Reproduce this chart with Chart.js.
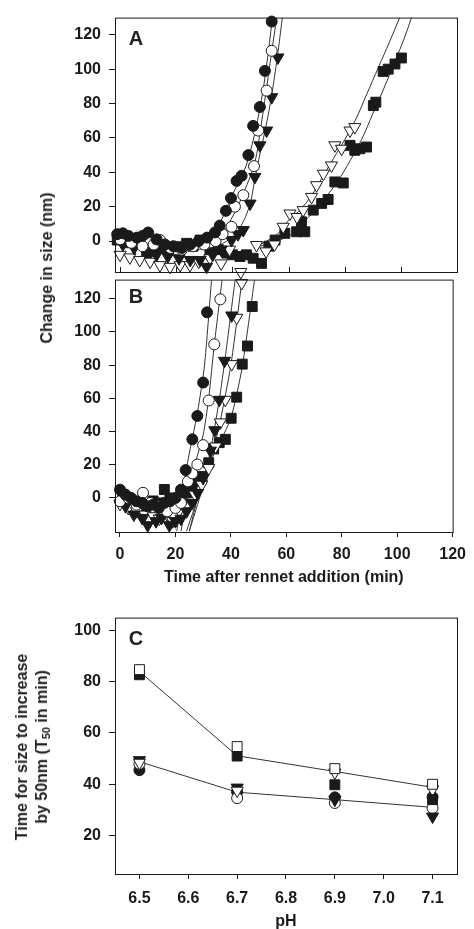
<!DOCTYPE html>
<html>
<head>
<meta charset="utf-8">
<script src="https://cdn.jsdelivr.net/npm/chart.js@4.4.0/dist/chart.umd.min.js"></script>
<style>
  body { margin: 0; background: #fff; width: 474px; height: 929px; position: relative; overflow: hidden;
         font-family: "Liberation Sans", Arial, sans-serif; color: #222; }
  canvas { position: absolute; left: 0; }
  .ytitle { position: absolute; font-weight: bold; font-size: 16px; white-space: nowrap; text-align: center;
            line-height: 20px; transform: translate(-50%, -50%) rotate(-90deg); }
  .ytitle sub { font-size: 11px; line-height: 0; vertical-align: -3px; }
  .panel { position: absolute; font-weight: bold; font-size: 20px; transform: translate(-50%, -50%); }
</style>
</head>
<body>
<canvas id="chartA" width="474" height="290" style="top:0px"></canvas>
<canvas id="chartB" width="474" height="338" style="top:262px"></canvas>
<canvas id="chartC" width="474" height="329" style="top:600px"></canvas>
<div class="ytitle" style="left:47px; top:268px">Change in size (nm)</div>
<div class="ytitle" style="left:32px; top:747px">Time for size to increase<br>by 50nm (T<sub>50</sub> in min)</div>
<div class="panel" style="left:136px; top:38px">A</div>
<div class="panel" style="left:136px; top:296px">B</div>
<div class="panel" style="left:136px; top:638px">C</div>
<script>
// tick values
const timeTicks = [0, 20, 40, 60, 80, 100, 120];
const sizeTicks = [0, 20, 40, 60, 80, 100, 120];
const phTicks = [6.5, 6.6, 6.7, 6.8, 6.9, 7.0, 7.1];
const t50Ticks = [20, 40, 60, 80, 100];

// panel A : [time, change in size]
const aFilledCircle = [[-1,4],[1,4.5],[3,3],[6,2],[8,3],[10,5],[13,1],[16,-2],[19,-3],[22,-4],[25,-2],[28,0],[31,2],[33.8,5],[35.5,9],[37.7,17.6],[39.5,25],[41.5,35],[43.3,38],[45.7,50],[47.4,67],[49.8,78],[51.6,99],[54,127.7]];
const aOpenCircle = [[0,1],[4,-1],[8,-3],[12,-2],[14.2,0.6],[18,-4],[22,-5],[26,-3],[30,-2],[34,0],[36.5,4],[39.7,8.3],[40.9,20],[43.9,26.7],[47.7,43.6],[49.2,64.3],[52.2,87.5],[54,110.7]];
const aFilledTri = [[1,-2],[5,-4],[9,-6],[13,-8],[17,-9],[21,-10],[25,-11],[28.5,-11],[30.8,-15],[33,-8],[36,-5],[39.7,0.6],[42,4],[43.9,6.4],[46.3,21.8],[48,37.3],[49.8,55.7],[52.2,64.3],[54,83.7],[56.2,106.8]];
const aOpenTri = [[0,-8],[3.5,-9.5],[7,-11],[10.7,-12],[14.2,-14],[17.8,-15],[21.4,-14],[24.9,-14],[28,-12],[32,-10],[36,-13],[39,-5],[43,-18],[48.6,-2.3],[52,-6],[55,-2],[58.1,8.3],[60.5,16],[63,14],[65.2,18],[68.2,25.7],[70,32.5],[72.4,39.2],[75.3,44],[76.5,55.7],[78.9,53.7],[81.9,64.3],[83.6,66.3]];
const aFilledSquare = [[-1,0.6],[2,-1],[4.7,0.6],[9.5,-7],[12,-6],[14.2,-4],[17,-5],[20.2,-3.3],[23.7,-1.3],[26,-3],[28.5,0.6],[32,-7],[35,-5],[38,-7],[40,-8],[42.7,-9],[45,-8],[47.4,-10],[50.4,-13],[53,-3],[55.2,0.6],[58.7,4.5],[62.9,5.4],[64.6,11.2],[65.8,5.4],[68.8,18],[71.8,21.9],[74.1,24.2],[76.5,34.4],[79.5,33.8],[81.9,55.7],[83.6,52.8],[85.4,53.7],[87.8,54.7],[90.2,78.8],[91.1,80.8],[93.7,98.7],[95.5,100],[97.9,103],[100.2,106.5]];

// panel A fitted curves
const aFitCircle = [[20,-2],[28,0],[32,4],[36,12],[40,27],[44,40],[47,56],[50,79],[52,100],[54.3,130]];
const aFitOpen = [[20,-3],[30,-1],[36,4],[40,14],[44,28],[48,46],[50,65],[52,87],[54,110],[55.8,130]];
const aFitTri = [[20,-5],[32,-4],[38,0],[42,6],[46,20],[48,36],[50,52],[52,67],[54,85],[56,107],[57.8,130]];
const aFitOpenTri = [[50,-2],[56,4],[60,12],[64,18],[68,26],[72,37],[76,48],[80,59],[84,71],[88,86],[92,101],[96,116],[99.6,130]];
const aFitSquare = [[50,-3],[56,0],[62,5],[66,12],[70,19],[74,27],[78,36],[82,47],[86,59],[90,74],[94,89],[98,105],[101,117],[103.8,130]];

// panel B : [time, change in size]
const bFilledCircle = [[0,5],[2,2],[4,0],[6,-2],[8,-3],[10,-5],[12,-4],[14,-6],[16,-3],[18,-2],[20,0],[22,5],[23.7,16.8],[26.1,35.3],[27.9,49.4],[30,69.5],[31.4,111.8]];
const bOpenCircle = [[0,-2],[3,0],[6,-4],[8.3,3.1],[11,-3],[14,-5],[17,-8],[20,-6],[22,-3],[24.5,10],[26.1,14.8],[27.9,20.1],[30,31.8],[32,58.7],[34,92.5],[36.2,119.6]];
const bFilledTri = [[2,-5],[5,-10],[8,-12],[10,-16.4],[13,-14],[15,-12],[17.8,-16.4],[20,-14],[22,-12.5],[24,-8],[26,-3],[28,3],[30,12],[32.6,28.5],[34.2,40.8],[35.8,59.1],[37.7,82.6],[40.3,109.9]];
const bOpenTri = [[0,-3.6],[3,-6],[6,-8],[9,-10],[12,-11],[14.2,-12.4],[17,-10],[19,-14],[21.4,-7.6],[24,-5],[27,2],[29.5,8],[32,18],[34.5,31],[36.2,45.5],[38,59.1],[40.3,80.6],[42.1,108.5],[43.9,129.4]];
const bFilledSquare = [[1,2],[3,-1],[5,-3],[7,-5],[9,-4],[11.9,-1.8],[14,-3],[16,5.1],[18,0],[20,-2],[22,1],[24,3],[26,6],[27.9,10],[29.6,12.9],[32,21.2],[33.8,29.5],[35.8,33.3],[38,35.3],[40.1,48],[42.1,60.7],[44.1,80.6],[46,91.5],[47.7,115.3]];

// panel B fitted lines
const bFitCircle = [[20.5,-20],[24,18],[28,52],[30.5,80],[33,131]];
const bFitOpen = [[22,-20],[26,14],[30,38],[32,60],[34,92],[36.8,131]];
const bFitTri = [[24,-20],[30,10],[32.6,28],[35.8,59],[38,85],[41.5,131]];
const bFitOpenTri = [[25,-20],[32,18],[36,45],[40,80],[44,131]];
const bFitSquare = [[25,-20],[30,12],[35,30],[40,48],[44,78],[48.5,131]];

// panel C : T50 per pH
const phValues = [6.5, 6.7, 6.9, 7.1];
const cFilledSquare = [82.7, 51, 39.8, 34];
const cOpenSquare = [84.7, 54.7, 46.1, 40];
const cFilledTri = [49.4, 38.7, 34, 27.4];
const cOpenTri = [48.4, 37.5, 44.6, 38];
const cFilledCircle = [45.5, 37, 34.9, 35];
const cOpenCircle = [48, 34.6, 32.7, 30.7];
const cUpperLine = [84, 51.1, 45, 38.8];
const cLowerLine = [48.8, 36.9, 34, 31];

const INK = '#1a1a1a';
const FONT = { family: '"Liberation Sans", Arial, sans-serif', size: 16, weight: 'bold' };

const markers = {
  filledCircle: { pointStyle: 'circle', radius: 5.5, rotation: 0, fill: INK },
  openCircle: { pointStyle: 'circle', radius: 5.5, rotation: 0, fill: '#fff' },
  filledTri: { pointStyle: 'triangle', radius: 7, rotation: 180, fill: INK },
  openTri: { pointStyle: 'triangle', radius: 7, rotation: 180, fill: '#fff' },
  filledSquare: { pointStyle: 'rect', radius: 7, rotation: 0, fill: INK },
  openSquare: { pointStyle: 'rect', radius: 7, rotation: 0, fill: '#fff' }
};

function toPts(pairs) {
  return pairs.map(p => ({ x: p[0], y: p[1] }));
}

function pointSet(data, kind) {
  const m = markers[kind];
  return {
    data: data,
    showLine: false,
    pointStyle: m.pointStyle,
    pointRadius: m.radius,
    pointRotation: m.rotation,
    pointBackgroundColor: m.fill,
    pointBorderColor: INK,
    pointBorderWidth: 1,
    clip: false
  };
}

function lineSet(data, tension) {
  return {
    data: data,
    showLine: true,
    pointRadius: 0,
    borderColor: '#333',
    borderWidth: 1,
    tension: tension,
    clip: 0
  };
}

// box around the plot area, and the short inward ticks on panel A's bottom edge
const framePlugin = {
  id: 'frame',
  afterDraw(chart, args, opts) {
    const { ctx, chartArea } = chart;
    ctx.save();
    ctx.strokeStyle = INK;
    ctx.lineWidth = 1;
    ctx.strokeRect(chartArea.left + 0.5, chartArea.top + 0.5, chartArea.right - chartArea.left, chartArea.bottom - chartArea.top);
    if (opts.innerTicks) {
      const xs = chart.scales.x;
      xs.ticks.forEach(t => {
        const px = Math.round(xs.getPixelForValue(t.value)) + 0.5;
        ctx.beginPath();
        ctx.moveTo(px, chartArea.bottom);
        ctx.lineTo(px, chartArea.bottom - 5);
        ctx.stroke();
      });
    }
    ctx.restore();
  }
};

function yAxis(min, max, tickValues, width) {
  return {
    type: 'linear', min: min, max: max,
    afterBuildTicks: s => { s.ticks = tickValues.map(v => ({ value: v })); },
    afterFit: s => { s.width = width; },
    grid: { drawOnChartArea: false, drawTicks: true, tickLength: 6, color: INK },
    border: { display: false },
    ticks: { color: INK, font: FONT, padding: 8 }
  };
}

function baseOptions(padTop, scales, innerTicks) {
  return {
    responsive: false,
    animation: false,
    layout: { padding: { top: padTop, right: 17, left: 0, bottom: 0 } },
    plugins: { legend: { display: false }, tooltip: { enabled: false }, frame: { innerTicks: innerTicks } },
    scales: scales
  };
}

document.addEventListener('DOMContentLoaded', () => {
  // Panel A
  new Chart(document.getElementById('chartA'), {
    type: 'scatter',
    data: {
      datasets: [
        pointSet(toPts(aFilledCircle), 'filledCircle'),
        pointSet(toPts(aOpenCircle), 'openCircle'),
        pointSet(toPts(aFilledTri), 'filledTri'),
        pointSet(toPts(aOpenTri), 'openTri'),
        pointSet(toPts(aFilledSquare), 'filledSquare'),
        lineSet(toPts(aFitCircle), 0.4),
        lineSet(toPts(aFitOpen), 0.4),
        lineSet(toPts(aFitTri), 0.4),
        lineSet(toPts(aFitOpenTri), 0.4),
        lineSet(toPts(aFitSquare), 0.4)
      ]
    },
    options: baseOptions(17, {
      x: {
        type: 'linear', min: -1.8, max: 120,
        afterBuildTicks: s => { s.ticks = timeTicks.map(v => ({ value: v })); },
        afterFit: s => { s.height = 18; },
        grid: { display: false }, border: { display: false }, ticks: { display: false }
      },
      y: yAxis(-18, 130, sizeTicks, 115)
    }, true),
    plugins: [framePlugin]
  });

  // Panel B
  new Chart(document.getElementById('chartB'), {
    type: 'scatter',
    data: {
      datasets: [
        pointSet(toPts(bFilledCircle), 'filledCircle'),
        pointSet(toPts(bOpenCircle), 'openCircle'),
        pointSet(toPts(bFilledTri), 'filledTri'),
        pointSet(toPts(bOpenTri), 'openTri'),
        pointSet(toPts(bFilledSquare), 'filledSquare'),
        lineSet(toPts(bFitCircle), 0.2),
        lineSet(toPts(bFitOpen), 0.2),
        lineSet(toPts(bFitTri), 0.2),
        lineSet(toPts(bFitOpenTri), 0.2),
        lineSet(toPts(bFitSquare), 0.2)
      ]
    },
    options: baseOptions(10, {
      x: {
        type: 'linear', min: -1.8, max: 120,
        afterBuildTicks: s => { s.ticks = timeTicks.map(v => ({ value: v })); },
        afterFit: s => { s.height = 68; },
        grid: { drawOnChartArea: false, drawTicks: true, tickLength: 5, color: INK },
        border: { display: false },
        ticks: { color: INK, font: FONT, padding: 8, maxRotation: 0 },
        title: { display: true, text: 'Time after rennet addition (min)', color: INK, font: FONT, padding: { top: 0, bottom: 13 } }
      },
      y: yAxis(-20.5, 131.5, sizeTicks, 115)
    }, false),
    plugins: [framePlugin]
  });

  // Panel C
  const cPts = vals => vals.map((v, i) => ({ x: phValues[i], y: v }));
  new Chart(document.getElementById('chartC'), {
    type: 'scatter',
    data: {
      datasets: [
        pointSet(cPts(cOpenSquare), 'openSquare'),
        pointSet(cPts(cFilledSquare), 'filledSquare'),
        pointSet(cPts(cOpenTri), 'openTri'),
        pointSet(cPts(cFilledTri), 'filledTri'),
        pointSet(cPts(cOpenCircle), 'openCircle'),
        pointSet(cPts(cFilledCircle), 'filledCircle'),
        lineSet(cPts(cUpperLine), 0),
        lineSet(cPts(cLowerLine), 0)
      ]
    },
    options: baseOptions(17, {
      x: {
        type: 'linear', min: 6.45, max: 7.15,
        afterBuildTicks: s => { s.ticks = phTicks.map(v => ({ value: v })); },
        afterFit: s => { s.height = 55; },
        grid: { drawOnChartArea: false, drawTicks: true, tickLength: 5, color: INK },
        border: { display: false },
        ticks: { color: INK, font: FONT, padding: 10, maxRotation: 0, callback: v => v.toFixed(1) },
        title: { display: true, text: 'pH', color: INK, font: FONT, padding: { top: 0, bottom: -2 } }
      },
      y: yAxis(5, 105, t50Ticks, 115)
    }, false),
    plugins: [framePlugin]
  });
});
</script>
</body>
</html>
